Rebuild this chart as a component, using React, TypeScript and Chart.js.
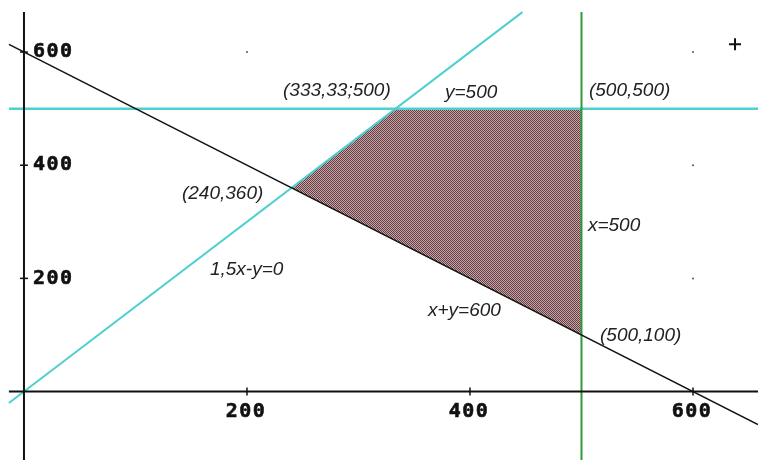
import React, { useEffect, useRef } from "react";
import { Chart, registerables } from "chart.js";
Chart.register(...registerables);

// axis ranges
const xMin = -21.5;
const xMax = 658.3;
const yMin = -121;
const yMax = 692;

// tick values
const xTicks = [200, 400, 600];
const yTicks = [200, 400, 600];

// feasible region polygon
const regionX = [240, 333.33, 500, 500, 240];
const regionY = [360, 500, 500, 100, 360];

// constraint lines (endpoints)
const sumLineX = [-13.5, 658.3];
const sumLineY = [613.5, -58.3];
const ratioLineX = [-13.5, 447];
const ratioLineY = [-20.25, 670.5];
const y500LineX = [-13.5, 658.3];
const y500LineY = [500, 500];
const x500LineX = [500, 500];
const x500LineY = [-121, 670.7];

// axes
const xAxisX = [-13.5, 658.3];
const xAxisY = [0, 0];
const yAxisX = [0, 0];
const yAxisY = [-121, 670.7];

// stray grid dots and plus mark
const dotX = [200, 600, 600, 600];
const dotY = [600, 600, 400, 200];
const plusX = [637.7];
const plusY = [614];

// annotations
const labelTexts = ["(333,33;500)", "y=500", "(500,500)", "(240,360)", "x=500", "1,5x-y=0", "x+y=600", "(500,100)"];
const labelX = [232.3, 377.6, 506.7, 141.7, 505.8, 166.8, 362.3, 516.6];
const labelY = [532, 529, 531, 350, 292.5, 214.7, 142.3, 98.1];

const pts = (xs: number[], ys: number[]) => xs.map((x, i) => ({ x, y: ys[i] }));

export default function App() {
  const ref = useRef<HTMLCanvasElement | null>(null);
  useEffect(() => {
    if (!ref.current) return;
    const pc = document.createElement("canvas");
    pc.width = 2;
    pc.height = 2;
    const pctx = pc.getContext("2d")!;
    pctx.fillStyle = "#c2aaaa";
    pctx.fillRect(0, 0, 2, 2);
    pctx.fillStyle = "#6a3a42";
    pctx.fillRect(0, 0, 1, 1);
    pctx.fillRect(1, 1, 1, 1);
    const pattern = pctx.createPattern(pc, "repeat")!;

    const textPlugin = {
      id: "texts",
      afterDatasetsDraw(chart: any) {
        const { ctx } = chart;
        const sx = chart.scales.x;
        const sy = chart.scales.y;
        ctx.save();
        ctx.fillStyle = "#111";
        ctx.strokeStyle = "#111";
        ctx.lineWidth = 0.6;
        ctx.font = 'bold 20px "DejaVu Sans Mono"';
        (ctx as any).letterSpacing = "1.5px";
        ctx.textBaseline = "middle";
        ctx.textAlign = "center";
        xTicks.forEach((v) => {
          const px = sx.getPixelForValue(v) - 1;
          const py = sy.getPixelForValue(0) + 20;
          ctx.fillText(String(v), px, py);
          ctx.strokeText(String(v), px, py);
        });
        ctx.textAlign = "left";
        yTicks.forEach((v) => {
          const px = sx.getPixelForValue(0) + 9;
          const py = sy.getPixelForValue(v);
          ctx.fillText(String(v), px, py);
          ctx.strokeText(String(v), px, py);
        });
        (ctx as any).letterSpacing = "0px";
        ctx.font = 'italic 19px "Liberation Sans"';
        ctx.fillStyle = "#222";
        labelTexts.forEach((t, i) => {
          ctx.fillText(t, sx.getPixelForValue(labelX[i]), sy.getPixelForValue(labelY[i]));
        });
        ctx.restore();
      },
    };

    const lineDs = (data: any[], color: string, width: number, order: number) => ({
      data,
      borderColor: color,
      borderWidth: width,
      pointRadius: 0,
      fill: false,
      showLine: true,
      order,
    });

    const chart = new Chart(ref.current, {
      type: "line",
      data: {
        datasets: [
          {
            data: pts(regionX, regionY),
            borderWidth: 0,
            borderColor: "rgba(0,0,0,0)",
            backgroundColor: pattern as any,
            pointRadius: 0,
            fill: "shape" as any,
            showLine: true,
            order: 10,
          },
          lineDs(pts(y500LineX, y500LineY), "#4fcfcf", 2.5, 5),
          lineDs(pts(ratioLineX, ratioLineY), "#4fcfcf", 2, 5),
          lineDs(pts(x500LineX, x500LineY), "#2f9a3a", 2, 4),
          lineDs(pts(sumLineX, sumLineY), "#111", 1.5, 3),
          lineDs(pts(xAxisX, xAxisY), "#111", 2, 2),
          lineDs(pts(yAxisX, yAxisY), "#111", 2, 2),
          {
            data: xTicks.map((v) => ({ x: v, y: 0 })),
            showLine: false,
            pointStyle: "line",
            rotation: 90,
            pointRadius: 4,
            borderColor: "#111",
            borderWidth: 1.5,
            order: 1,
          } as any,
          {
            data: yTicks.map((v) => ({ x: 0, y: v })),
            showLine: false,
            pointStyle: "line",
            rotation: 0,
            pointRadius: 4,
            borderColor: "#111",
            borderWidth: 1.5,
            order: 1,
          } as any,
          {
            data: pts(dotX, dotY),
            showLine: false,
            pointStyle: "circle",
            pointRadius: 1,
            borderWidth: 0,
            backgroundColor: "#555",
            order: 1,
          } as any,
          {
            data: pts(plusX, plusY),
            showLine: false,
            pointStyle: "cross",
            pointRadius: 6,
            borderColor: "#111",
            borderWidth: 2,
            order: 1,
          } as any,
        ],
      },
      options: {
        responsive: false,
        animation: false,
        layout: { padding: 0, autoPadding: false },
        events: [],
        scales: {
          x: { type: "linear", min: xMin, max: xMax, display: false },
          y: { type: "linear", min: yMin, max: yMax, display: false },
        },
        plugins: {
          legend: { display: false },
          tooltip: { enabled: false },
        },
      },
      plugins: [textPlugin],
    });
    return () => chart.destroy();
  }, []);

  return (
    <div style={{ position: "absolute", left: 0, top: 0, width: 758, height: 460, background: "#fff" }}>
      <canvas ref={ref} width={758} height={460} />
    </div>
  );
}
